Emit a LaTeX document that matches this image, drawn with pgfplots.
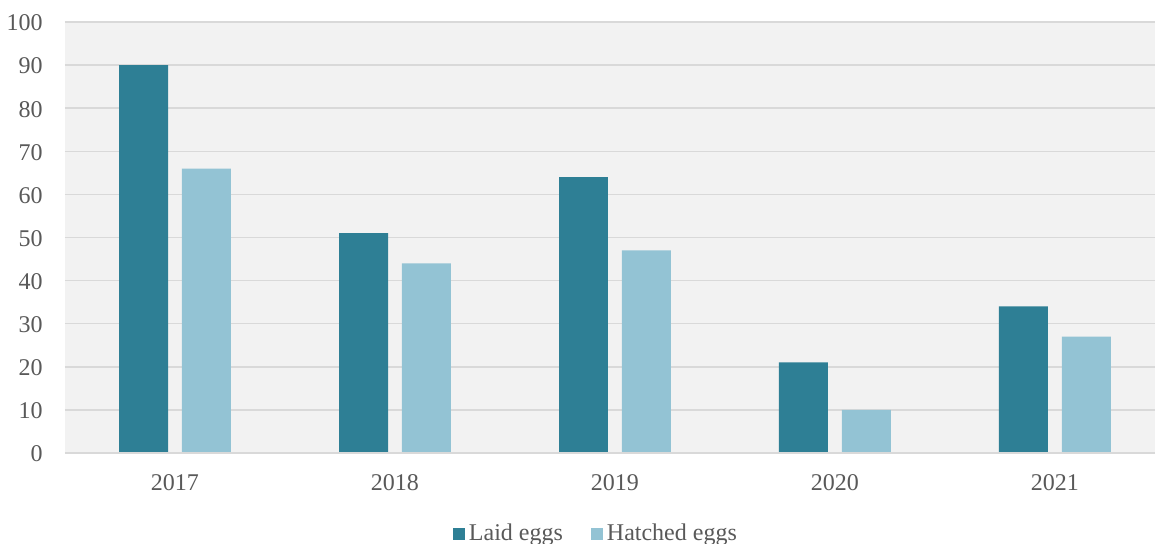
\documentclass[border=0pt]{standalone}
\usepackage{pgfplots}
\pgfplotsset{compat=1.18}
\usepackage{fontspec}
\setmainfont{Liberation Serif}
\definecolor{laid}{HTML}{2E7F95}
\definecolor{hatch}{HTML}{93C3D4}
\definecolor{bgc}{HTML}{F2F2F2}
\definecolor{gridc}{HTML}{D9D9D9}
\definecolor{txt}{HTML}{595959}
\begin{document}
\fontsize{12bp}{14bp}\selectfont
\begin{tikzpicture}
\begin{axis}[
  name=ax,
  scale only axis,
  width=545bp, height=215.5bp,
  xmin=-0.5, xmax=4.455,
  ymin=0, ymax=100,
  ytick={0,10,...,100},
  xtick={0,1,2,3,4},
  xticklabels={2017,2018,2019,2020,2021},
  major tick length=0pt,
  axis background/.style={fill=bgc},
  axis line style={draw=none},
  ymajorgrids,
  grid style={gridc, line width=0.75bp},
  ticklabel style={font=\fontsize{12bp}{14bp}\selectfont, text=txt},
  xticklabel style={yshift=-6.5bp},
  yticklabel style={xshift=-7bp, yshift=-0.5bp},
  /pgf/number format/assume math mode=true,
  legend style={at={(0.488,-0.188)}, anchor=center, draw=none, fill=none,
    font=\fontsize{12bp}{14bp}\selectfont, text=txt,
    /tikz/every even column/.append style={column sep=12bp}},
  legend columns=2,
  legend image code/.code={\fill[#1] (0bp,-3bp) rectangle (6bp,3bp);},
  clip=false,
]
\addplot[ybar, bar width=0.2227, bar shift=-0.143, fill=laid, draw=none]
  coordinates {(0,90) (1,51) (2,64) (3,21) (4,34)};
\addlegendentry{Laid eggs}
\addplot[ybar, bar width=0.2227, bar shift=0.143, fill=hatch, draw=none]
  coordinates {(0,66) (1,44) (2,47) (3,10) (4,27)};
\addlegendentry{Hatched eggs}
\draw[gridc, line width=1bp] (rel axis cs:0,0) -- (rel axis cs:1,0);
\end{axis}
\pgfresetboundingbox
\path[use as bounding box] ([xshift=-32.5bp,yshift=-45.5bp]ax.south west) rectangle ([yshift=11bp]ax.north east);
\end{tikzpicture}
\end{document}
